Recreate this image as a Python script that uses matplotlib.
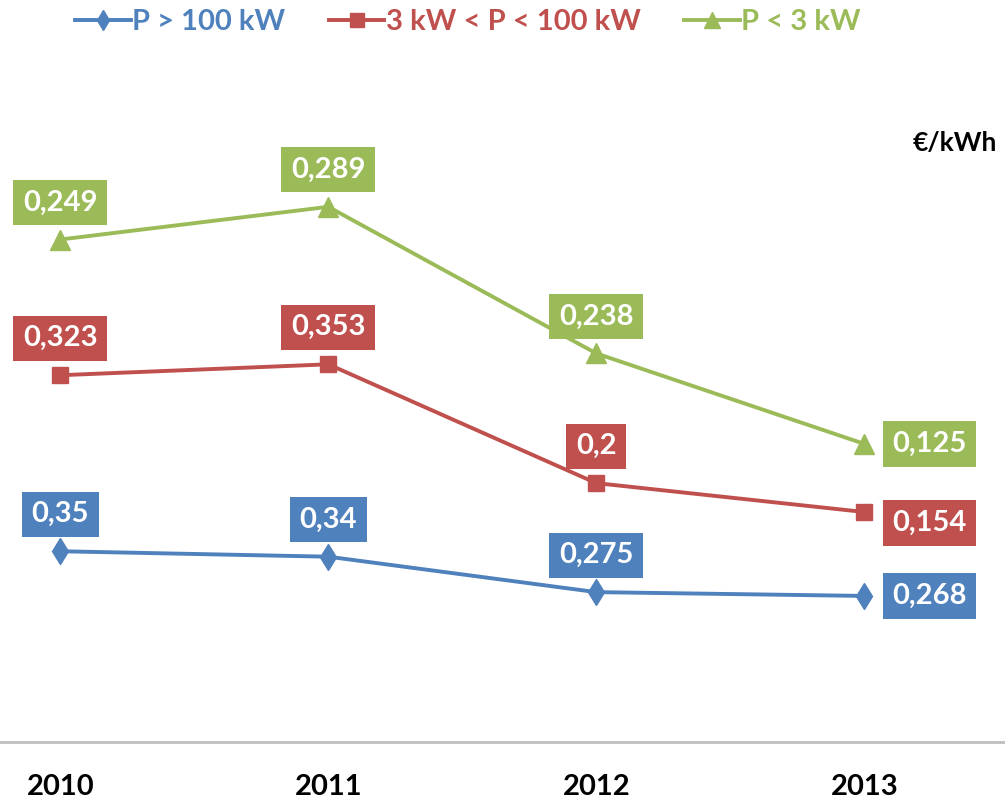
import numpy as np
import matplotlib.pyplot as plt

plt.rcParams['font.family'] = ['Lato', 'DejaVu Sans']

years = ['2010', '2011', '2012', '2013']
big = [0.35, 0.34, 0.275, 0.268]      # P > 100 kW
mid = [0.323, 0.353, 0.2, 0.154]      # 3 kW < P < 100 kW
small = [0.249, 0.289, 0.238, 0.125]  # P < 3 kW
names = ['P > 100 kW', '3 kW < P < 100 kW', 'P < 3 kW']
colors = ['#4F81BD', '#C0504D', '#9BBB59']
markers = ['d', 's', '^']
msizes = [13, 12, 14]

fig = plt.figure(figsize=(10.05, 8.02), dpi=100)
ax = fig.add_axes([0, 60 / 802, 1, 654 / 802])

x = np.arange(len(years))
# stacked lines: each series sits on top of the previous ones
stack = np.cumsum([big, mid, small], axis=0)
series = [big, mid, small]

for i in range(3):
    ax.plot(x, stack[i], color=colors[i], lw=2.8, marker=markers[i],
            ms=msizes[i], label=names[i])
    for j in range(len(years)):
        txt = ('%g' % series[i][j]).replace('.', ',')
        if j < 3:
            off, ha = (0, 37), 'center'
        else:
            off, ha = (28, -11 if i == 1 else 0), 'left'
        ax.annotate(txt, (x[j], stack[i][j]), xytext=off, textcoords='offset pixels',
                    ha=ha, va='center', color='white', fontsize=21, fontweight='bold',
                    bbox=dict(boxstyle='square,pad=0.33', fc=colors[i], ec='none'))

ax.set_xlim(-0.225, 3.525)
ax.set_ylim(0, 1.2)
ax.set_yticks([])
ax.set_xticks(x)
ax.set_xticklabels(years, fontsize=21, fontweight='bold')
ax.tick_params(axis='x', length=0, pad=23)
for s in ['top', 'left', 'right']:
    ax.spines[s].set_visible(False)
ax.spines['bottom'].set_color('#BFBFBF')
ax.spines['bottom'].set_linewidth(2)

fig.text(997 / 1005, 1 - 143 / 802, '€/kWh', ha='right', va='center',
         fontsize=19, fontweight='bold')

leg = fig.legend(loc='center', bbox_to_anchor=(468 / 1005, 1 - 22 / 802), ncol=3,
                 frameon=False, handlelength=1.9, handletextpad=0.05,
                 columnspacing=1.5, labelcolor='linecolor', markerscale=0.8,
                 prop={'size': 21, 'weight': 'bold'})

fig.savefig('out.png', dpi=100)
